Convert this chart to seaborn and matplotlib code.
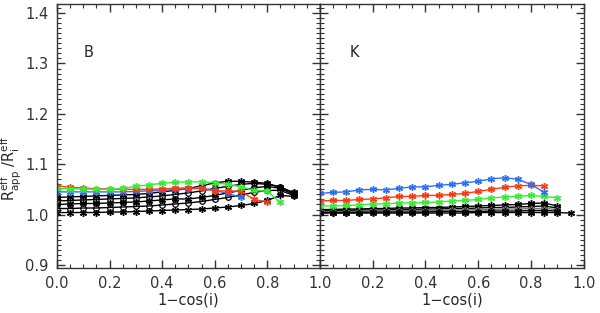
import numpy as np
import pandas as pd
import matplotlib
matplotlib.use("Agg")
import matplotlib.pyplot as plt
import seaborn as sns
from matplotlib.ticker import MultipleLocator

# x grid of 1-cos(i)
x_grid = [0.0, 0.05, 0.1, 0.15, 0.2, 0.25, 0.3, 0.35, 0.4, 0.45,
          0.5, 0.55, 0.6, 0.65, 0.7, 0.75, 0.8, 0.85, 0.9, 0.95]

# B band
b_red = [1.057, 1.054, 1.053, 1.051, 1.051, 1.050, 1.050, 1.050, 1.051,
         1.052, 1.053, 1.052, 1.047, 1.047, 1.046, 1.030, 1.025]
b_green = [1.052, 1.051, 1.051, 1.050, 1.050, 1.052, 1.056, 1.059, 1.062,
           1.064, 1.065, 1.065, 1.063, 1.060, 1.055, 1.048, 1.046, 1.024]
b_blue = [1.045, 1.045, 1.045, 1.045, 1.045, 1.045, 1.046, 1.047, 1.048,
          1.050, 1.051, 1.052, 1.048, 1.042, 1.034]
b_black = [
    [1.034, 1.035, 1.036, 1.037, 1.038, 1.039, 1.040, 1.042, 1.045, 1.048,
     1.052, 1.057, 1.063, 1.066, 1.066, 1.064, 1.062, 1.054, 1.044],
    [1.027, 1.028, 1.029, 1.030, 1.031, 1.032, 1.033, 1.035, 1.037, 1.040,
     1.043, 1.047, 1.052, 1.056, 1.060, 1.062, 1.060, 1.055, 1.042],
    [1.020, 1.021, 1.022, 1.022, 1.023, 1.024, 1.025, 1.027, 1.029, 1.031,
     1.031, 1.034, 1.038, 1.043, 1.048, 1.053, 1.056, 1.052, 1.040],
    [1.012, 1.012, 1.013, 1.013, 1.014, 1.015, 1.016, 1.017, 1.019, 1.021,
     1.023, 1.026, 1.030, 1.034, 1.039, 1.044, 1.048, 1.048, 1.038],
    [1.004, 1.004, 1.004, 1.004, 1.005, 1.005, 1.006, 1.007, 1.008, 1.009,
     1.010, 1.011, 1.013, 1.015, 1.018, 1.022, 1.028, 1.038, 1.036],
]
b_black_markers = ['star', 'circle', 'star', 'circle', 'star']

# K band
k_blue = [1.042, 1.044, 1.045, 1.049, 1.050, 1.049, 1.052, 1.055, 1.055,
          1.058, 1.060, 1.063, 1.066, 1.071, 1.073, 1.070, 1.060, 1.044]
k_red = [1.027, 1.028, 1.028, 1.030, 1.031, 1.033, 1.036, 1.036, 1.038,
         1.038, 1.040, 1.042, 1.046, 1.050, 1.054, 1.057, 1.058, 1.057]
k_green = [1.017, 1.017, 1.018, 1.019, 1.021, 1.021, 1.023, 1.023, 1.024,
           1.025, 1.027, 1.028, 1.030, 1.033, 1.035, 1.036, 1.038, 1.036, 1.033]
k_black = [
    [1.010, 1.010, 1.011, 1.011, 1.012, 1.012, 1.013, 1.013, 1.014, 1.014,
     1.015, 1.016, 1.017, 1.018, 1.019, 1.020, 1.022, 1.023, 1.017],
    [1.008, 1.008, 1.008, 1.009, 1.009, 1.009, 1.010, 1.010, 1.011, 1.011,
     1.012, 1.012, 1.013, 1.014, 1.014, 1.015, 1.016, 1.017, 1.013],
    [1.006, 1.006, 1.006, 1.006, 1.007, 1.007, 1.007, 1.008, 1.008, 1.008,
     1.009, 1.009, 1.010, 1.010, 1.011, 1.011, 1.012, 1.012, 1.010],
    [1.004, 1.004, 1.004, 1.004, 1.005, 1.005, 1.005, 1.005, 1.005, 1.006,
     1.006, 1.006, 1.006, 1.007, 1.007, 1.007, 1.008, 1.008, 1.007],
    [1.003, 1.003, 1.003, 1.003, 1.003, 1.003, 1.003, 1.003, 1.003, 1.003,
     1.003, 1.003, 1.004, 1.004, 1.004, 1.004, 1.004, 1.004, 1.004, 1.003],
]
k_black_colors = ['black', 'black', '#777777', 'black', 'black']

RED = '#ff3a10'
GREEN = '#33ee33'
BLUE = '#2a70ff'
ASTER = (6, 2, 0)

sns.set_style("ticks")
plt.rcParams['font.family'] = ['DejaVu Sans']
plt.rcParams['mathtext.default'] = 'regular'
plt.rcParams['axes.edgecolor'] = '#333333'
plt.rcParams['xtick.color'] = '#333333'
plt.rcParams['ytick.color'] = '#333333'


def draw(ax, y, color, marker='star'):
    df = pd.DataFrame({'x': x_grid[:len(y)], 'y': y})
    if marker == 'circle':
        sns.lineplot(data=df, x='x', y='y', ax=ax, color=color, linewidth=1,
                     marker='o', markersize=4, markerfacecolor='none',
                     markeredgecolor=color, markeredgewidth=0.9)
    else:
        sns.lineplot(data=df, x='x', y='y', ax=ax, color=color, linewidth=1,
                     marker=ASTER, markersize=5, markeredgecolor=color,
                     markeredgewidth=1.0)


fig = plt.figure(figsize=(6.0, 3.13), dpi=100)
ax1 = fig.add_axes([0.095, 0.144, 0.438, 0.843])
ax2 = fig.add_axes([0.533, 0.144, 0.44, 0.843])

for y, m in zip(b_black, b_black_markers):
    draw(ax1, y, 'black', m)
draw(ax1, b_blue, BLUE)
draw(ax1, b_red, RED)
draw(ax1, b_green, GREEN)

for y, c in zip(k_black, k_black_colors):
    draw(ax2, y, c)
draw(ax2, k_green, GREEN)
draw(ax2, k_red, RED)
draw(ax2, k_blue, BLUE)

for ax in (ax1, ax2):
    ax.set_xlim(0, 1)
    ax.set_ylim(0.894, 1.418)
    ax.xaxis.set_major_locator(MultipleLocator(0.2))
    ax.xaxis.set_minor_locator(MultipleLocator(0.05))
    ax.yaxis.set_major_locator(MultipleLocator(0.1))
    ax.yaxis.set_minor_locator(MultipleLocator(0.01))
    ax.tick_params(which='both', direction='in', top=True, right=True,
                   labelsize=10.5, pad=6)
    ax.tick_params(which='major', length=6, width=1)
    ax.tick_params(which='minor', length=3, width=0.8)
    for s in ax.spines.values():
        s.set_linewidth(1)
    ax.set_xlabel('1\u2212cos(i)', fontsize=10.5, labelpad=1)

ax1.set_ylabel('$R^{eff}_{app}$ /$R^{eff}_{i}$', fontsize=10.5)
ax1.yaxis.set_label_coords(-0.125, 0.38)
ax2.set_ylabel('')
ax2.set_yticklabels([])
ax2.set_xticks([0.0, 0.2, 0.4, 0.6, 0.8, 1.0])
ax2.set_xticklabels(['', '0.2', '0.4', '0.6', '0.8', '1.0'])
ax1.set_xticks([0.0, 0.2, 0.4, 0.6, 0.8, 1.0])
ax1.set_xticklabels(['0.0', '0.2', '0.4', '0.6', '0.8', '1.0'])

ax1.text(0.12, 1.322, 'B', fontsize=10.5, ha='center', va='center')
ax2.text(0.13, 1.322, 'K', fontsize=10.5, ha='center', va='center')

fig.savefig('out.png', dpi=100)
